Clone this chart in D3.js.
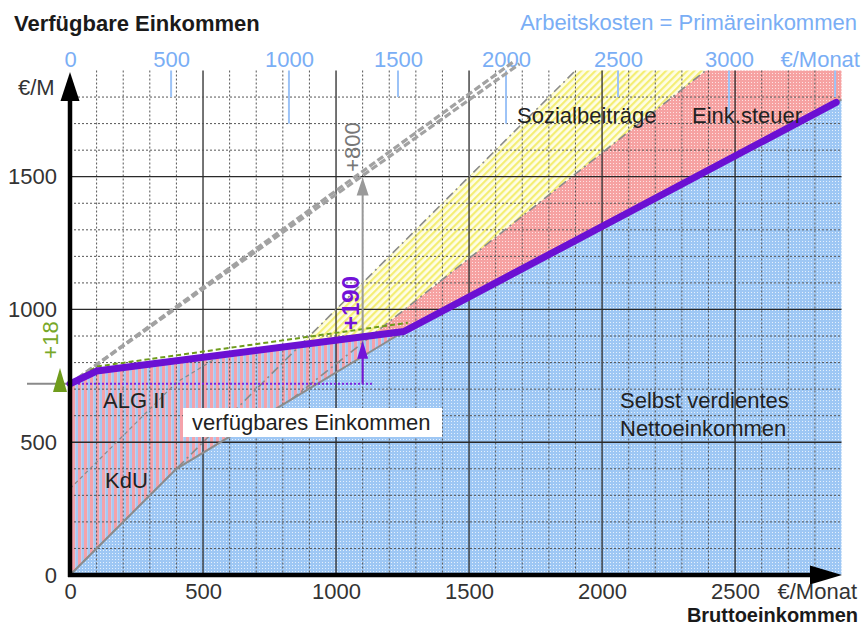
<!DOCTYPE html>
<html>
<head>
<meta charset="utf-8">
<script src="https://cdn.jsdelivr.net/npm/d3@7"></script>
<style>
  html, body { margin: 0; padding: 0; background: #ffffff; }
  svg { display: block; font-family: "Liberation Sans", Arial, sans-serif; }
</style>
</head>
<body>
<svg id="chart" width="862" height="627"></svg>
<script>
// ---------------- data ----------------
const xTickValues = [0, 500, 1000, 1500, 2000, 2500];
const yTickValues = [0, 500, 1000, 1500];
const topTickValues = [0, 500, 1000, 1500, 2000, 2500, 3000, 3500];
const topTickGross = [0, 380, 823, 1233, 1639, 2060, 2477, 2876];
const topTickLabels = ["0", "500", "1000", "1500", "2000", "2500", "3000", "€/Monat"];

// Selbst verdientes Nettoeinkommen (gross -> net)
const netGross = [0, 400, 1255, 2900];
const netValue = [0, 400, 917, 1790];
// verfügbares Einkommen (purple)
const availGross = [0, 100, 1255, 2880];
const availValue = [720, 768, 917, 1780];
// green dashed alternative (+18)
const greenGross = [0, 100, 1270];
const greenValue = [720, 785, 950];
// Bruttoeinkommen line (gross = value)
const grossGross = [0, 1900];
const grossValue = [0, 1900];
// Brutto minus Sozialbeiträge
const svGross = [0, 2390];
const svValue = [0, 1900];
// KdU boundary (net + KdU)
const kduGross = [0, 400, 567];
const kduValue = [325, 725, 827];
// ALG II level
const alg2Level = 720;
// double dashed lines (+800)
const upperGross = [0, 1670];
const upperValue = [720, 1935];
const lowerGross = [0, 1690];
const lowerValue = [720, 1925];
// annotation positions
const arrowGross = 1100;
const greenDelta = 18;

// ---------------- setup ----------------
const svg = d3.select("#chart");
const x = d3.scaleLinear().domain([0, 2900]).range([70, 841.5]);
const y = d3.scaleLinear().domain([0, 1900]).range([575, 70.5]);
const FONT = 22;

function interp(xs, ys, g) {
  return d3.scaleLinear().domain(xs).range(ys).clamp(true)(g);
}
function pts(xs, ys) { return xs.map((g, i) => [g, ys[i]]); }
function crossing(f1, f2, lo, hi) {
  for (let i = 0; i < 60; i++) {
    const m = (lo + hi) / 2;
    if ((f1(lo) - f2(lo)) * (f1(m) - f2(m)) <= 0) hi = m; else lo = m;
  }
  return (lo + hi) / 2;
}
const net = g => interp(netGross, netValue, g);
const avail = g => interp(availGross, availValue, g);
const sv = g => interp(svGross, svValue, g);
const gross = g => interp(grossGross, grossValue, g);

// ---------------- patterns ----------------
const defs = svg.append("defs");
function dots(id, base, dot) {
  const p = defs.append("pattern").attr("id", id).attr("patternUnits", "userSpaceOnUse")
    .attr("width", 3).attr("height", 3);
  p.append("rect").attr("width", 3).attr("height", 3).attr("fill", base);
  p.append("rect").attr("x", 1).attr("y", 1).attr("width", 1).attr("height", 1).attr("fill", dot);
}
dots("blueDots", "#9ec7f4", "#e4f0fd");
dots("redDots", "#f6a2a2", "#fde2e2");
const hatch = defs.append("pattern").attr("id", "yellowHatch").attr("patternUnits", "userSpaceOnUse")
  .attr("width", 5).attr("height", 5).attr("patternTransform", "rotate(45)");
hatch.append("rect").attr("width", 5).attr("height", 5).attr("fill", "#fefde6");
hatch.append("rect").attr("width", 2.2).attr("height", 5).attr("fill", "#f4ee74");
const stripes = defs.append("pattern").attr("id", "stripes").attr("patternUnits", "userSpaceOnUse")
  .attr("width", 6).attr("height", 6);
stripes.append("rect").attr("width", 3.3).attr("height", 6).attr("fill", "#f5a2aa");
stripes.append("rect").attr("x", 3.3).attr("width", 2.7).attr("height", 6).attr("fill", "#a6c8f2");

const line = d3.line().x(d => x(d[0])).y(d => y(d[1]));

// ---------------- areas ----------------
// blue: under net
svg.append("path")
  .attr("d", d3.area().x(d => x(d[0])).y0(y(0)).y1(d => y(d[1]))(pts(netGross, netValue)))
  .attr("fill", "url(#blueDots)");

// striped: between net and purple up to the kink
const stripeG = Array.from(new Set([...netGross, ...availGross])).filter(g => g <= availGross[2]).sort((a, b) => a - b);
svg.append("path")
  .attr("d", d3.area().x(g => x(g)).y0(g => y(net(g))).y1(g => y(avail(g)))(stripeG))
  .attr("fill", "url(#stripes)");

// red: between sv-line and purple/net
const gRed = crossing(sv, avail, 800, 1255);
const topVal = y.domain()[1];
const gSvTop = svGross[1];
const redPts = [[gRed, sv(gRed)], [gSvTop, topVal], [2900, topVal], [2900, net(2900)],
  [availGross[2], avail(availGross[2])], [gRed, avail(gRed)]];
svg.append("path").attr("d", line(redPts) + "Z").attr("fill", "url(#redDots)");

// yellow: between gross line and sv/purple
const gYel = crossing(gross, avail, 300, 1255);
const yelPts = [[gYel, gross(gYel)], [grossGross[1], topVal], [gSvTop, topVal], [gRed, sv(gRed)], [gYel, avail(gYel)]];
svg.append("path").attr("d", line(yelPts) + "Z").attr("fill", "url(#yellowHatch)");

// ---------------- grid ----------------
const grid = svg.append("g");
d3.range(100, 2900, 100).forEach(g => {
  const major = g % 500 === 0;
  grid.append("line").attr("x1", x(g)).attr("x2", x(g)).attr("y1", y(topVal)).attr("y2", y(0))
    .attr("stroke", major ? "#2a2a2a" : "#555").attr("stroke-width", major ? 1.3 : 1)
    .attr("stroke-dasharray", major ? null : "2,2");
});
d3.range(100, 1900, 100).forEach(v => {
  const major = v % 500 === 0;
  grid.append("line").attr("x1", x(0)).attr("x2", x(2900)).attr("y1", y(v)).attr("y2", y(v))
    .attr("stroke", major ? "#2a2a2a" : "#555").attr("stroke-width", major ? 1.3 : 1)
    .attr("stroke-dasharray", major ? null : "2,2");
});

// ---------------- top axis (Arbeitskosten) ----------------
const topScale = d3.scaleLinear().domain(topTickValues).range(topTickGross.map(g => x(g)));
const topAxis = svg.append("g").attr("transform", `translate(0,${y(topVal)})`)
  .call(d3.axisTop(topScale).tickValues(topTickValues).tickSize(0).tickPadding(4)
    .tickFormat((d, i) => topTickLabels[i]));
topAxis.select(".domain").remove();
topAxis.selectAll("text").attr("font-size", FONT).attr("fill", "#7aaef5")
  .attr("font-family", "Liberation Sans, Arial, sans-serif");
topAxis.selectAll("text").filter((d, i) => i === topTickValues.length - 1).attr("dx", "-0.7em");
topTickValues.forEach((v, i) => {
  if (i === 0) return;
  const long = v % 1000 === 0;
  svg.append("line").attr("x1", topScale(v)).attr("x2", topScale(v))
    .attr("y1", y(topVal)).attr("y2", long ? y(1700) : y(1800))
    .attr("stroke", "#9cc3f7").attr("stroke-width", 2);
});

// ---------------- reference lines ----------------
const dashDot = "9,4,2,4";
svg.append("path").attr("d", line(pts(grossGross, grossValue))).attr("fill", "none")
  .attr("stroke", "#8a8a8a").attr("stroke-width", 1.6).attr("stroke-dasharray", dashDot);
const gSvNet = crossing(sv, net, 500, 1255);
svg.append("path").attr("d", line(pts(svGross, svValue).map((d, i) => i === 0 ? [gSvNet, sv(gSvNet)] : d)))
  .attr("fill", "none").attr("stroke", "#8a8a8a").attr("stroke-width", 1.6).attr("stroke-dasharray", dashDot);
svg.append("path").attr("d", line(pts(kduGross, kduValue))).attr("fill", "none")
  .attr("stroke", "#8a8a8a").attr("stroke-width", 1.2).attr("stroke-dasharray", "4,3");
// net boundary
svg.append("path").attr("d", line(pts(netGross, netValue))).attr("fill", "none")
  .attr("stroke", "#8c8c8c").attr("stroke-width", 2);

// double dashed lines
[[upperGross, upperValue], [lowerGross, lowerValue]].forEach(([gs, vs]) => {
  svg.append("path").attr("d", line(pts(gs, vs))).attr("fill", "none")
    .attr("stroke", "#a2a2a2").attr("stroke-width", 3.2).attr("stroke-dasharray", "7,3");
});

// ALG II level lines
svg.append("line").attr("x1", 27).attr("x2", x(0)).attr("y1", y(alg2Level)).attr("y2", y(alg2Level))
  .attr("stroke", "#8a8a8a").attr("stroke-width", 2);
svg.append("line").attr("x1", x(0)).attr("x2", x(arrowGross + 35)).attr("y1", y(alg2Level)).attr("y2", y(alg2Level))
  .attr("stroke", "#7a22e0").attr("stroke-width", 2).attr("stroke-dasharray", "2,2");

// green dashed
svg.append("path").attr("d", line(pts(greenGross, greenValue))).attr("fill", "none")
  .attr("stroke", "#6f9c1c").attr("stroke-width", 2).attr("stroke-dasharray", "5,3");

// gray arrow (+800)
const ax = x(arrowGross);
const lowerAt = interp(lowerGross, lowerValue, arrowGross);
svg.append("line").attr("x1", ax).attr("x2", ax).attr("y1", y(alg2Level)).attr("y2", y(lowerAt) + 15)
  .attr("stroke", "#999").attr("stroke-width", 2);
svg.append("path").attr("d", `M${ax},${y(lowerAt) + 2} L${ax - 6},${y(lowerAt) + 20} L${ax + 6},${y(lowerAt) + 20} Z`)
  .attr("fill", "#999");

// purple arrow (+190)
const availAt = avail(arrowGross);
svg.append("line").attr("x1", ax).attr("x2", ax).attr("y1", y(alg2Level)).attr("y2", y(availAt) + 14)
  .attr("stroke", "#7312d8").attr("stroke-width", 2);
svg.append("path").attr("d", `M${ax},${y(availAt) + 4} L${ax - 5.5},${y(availAt) + 22} L${ax + 5.5},${y(availAt) + 22} Z`)
  .attr("fill", "#7312d8");

// purple main line
svg.append("path").attr("d", line(pts(availGross, availValue))).attr("fill", "none")
  .attr("stroke", "#6b10d3").attr("stroke-width", 7).attr("stroke-linecap", "round").attr("stroke-linejoin", "round");

// green arrow (+18)
const gy = y(alg2Level + greenDelta);
svg.append("line").attr("x1", 60).attr("x2", 60).attr("y1", gy + 12).attr("y2", y(alg2Level) + 4)
  .attr("stroke", "#6f9c1c").attr("stroke-width", 2);
svg.append("path").attr("d", `M60,${gy - 11} L53,${gy + 13} L67,${gy + 13} Z`).attr("fill", "#6f9c1c");

// ---------------- axes ----------------
const xAxis = svg.append("g").attr("transform", `translate(0,${y(0)})`)
  .call(d3.axisBottom(x).tickValues(xTickValues).tickSize(0).tickPadding(8).tickFormat(d3.format("d")));
xAxis.select(".domain").remove();
xAxis.selectAll("text").attr("font-size", FONT).attr("fill", "#333").attr("font-family", "Liberation Sans, Arial, sans-serif");

const yAxis = svg.append("g").attr("transform", `translate(${x(0)},0)`)
  .call(d3.axisLeft(y).tickValues(yTickValues).tickSize(0).tickPadding(13).tickFormat(d3.format("d")));
yAxis.select(".domain").remove();
yAxis.selectAll("text").attr("font-size", FONT).attr("fill", "#333").attr("font-family", "Liberation Sans, Arial, sans-serif");

// axis lines with arrows
svg.append("line").attr("x1", x(0) - 2).attr("x2", 814).attr("y1", y(0)).attr("y2", y(0))
  .attr("stroke", "#000").attr("stroke-width", 4.5);
svg.append("path").attr("d", `M842,${y(0)} L810,${y(0) - 9.5} L810,${y(0) + 9.5} Z`).attr("fill", "#000");
svg.append("line").attr("x1", x(0)).attr("x2", x(0)).attr("y1", y(0) + 2).attr("y2", 98)
  .attr("stroke", "#000").attr("stroke-width", 4.5);
svg.append("path").attr("d", `M${x(0)},72 L${x(0) - 9.5},101 L${x(0) + 9.5},101 Z`).attr("fill", "#000");

// ---------------- texts ----------------
function txt(t, px, py, opts = {}) {
  const el = svg.append("text").attr("x", px).attr("y", py).text(t)
    .attr("font-size", opts.size || FONT).attr("fill", opts.fill || "#222")
    .attr("text-anchor", opts.anchor || "start").attr("font-weight", opts.bold ? "bold" : "normal");
  if (opts.rotate) el.attr("transform", `rotate(-90,${px},${py})`);
  return el;
}
txt("Verfügbare Einkommen", 14, 31, { bold: true, fill: "#1a1a1a" });
txt("Arbeitskosten = Primäreinkommen", 857, 30, { anchor: "end", fill: "#7aaef5" });
txt("€/M", 18, 95, { fill: "#333" });
txt("€/Monat", 857, 598.5, { anchor: "end", fill: "#333" });
txt("Bruttoeinkommen", 858, 622, { anchor: "end", bold: true, fill: "#1a1a1a", size: 20 });

txt("Sozialbeiträge", 517, 123);
txt("Eink.steuer", 692, 123);
txt("ALG II", 103, 408);
txt("KdU", 105, 488);
txt("Selbst verdientes", 620, 408);
txt("Nettoeinkommen", 620, 436);

svg.append("rect").attr("x", 183).attr("y", 408).attr("width", 259).attr("height", 29).attr("fill", "#fff");
txt("verfügbares Einkommen", 192, 430);

txt("+190", 351, 303, { rotate: true, anchor: "middle", bold: true, fill: "#7312d8", size: 24 }).attr("dy", "0.35em");
txt("+800", 352, 147, { rotate: true, anchor: "middle", fill: "#777" }).attr("dy", "0.35em");
txt("+18", 50, 340, { rotate: true, anchor: "middle", fill: "#78a828" }).attr("dy", "0.35em");
</script>
</body>
</html>
